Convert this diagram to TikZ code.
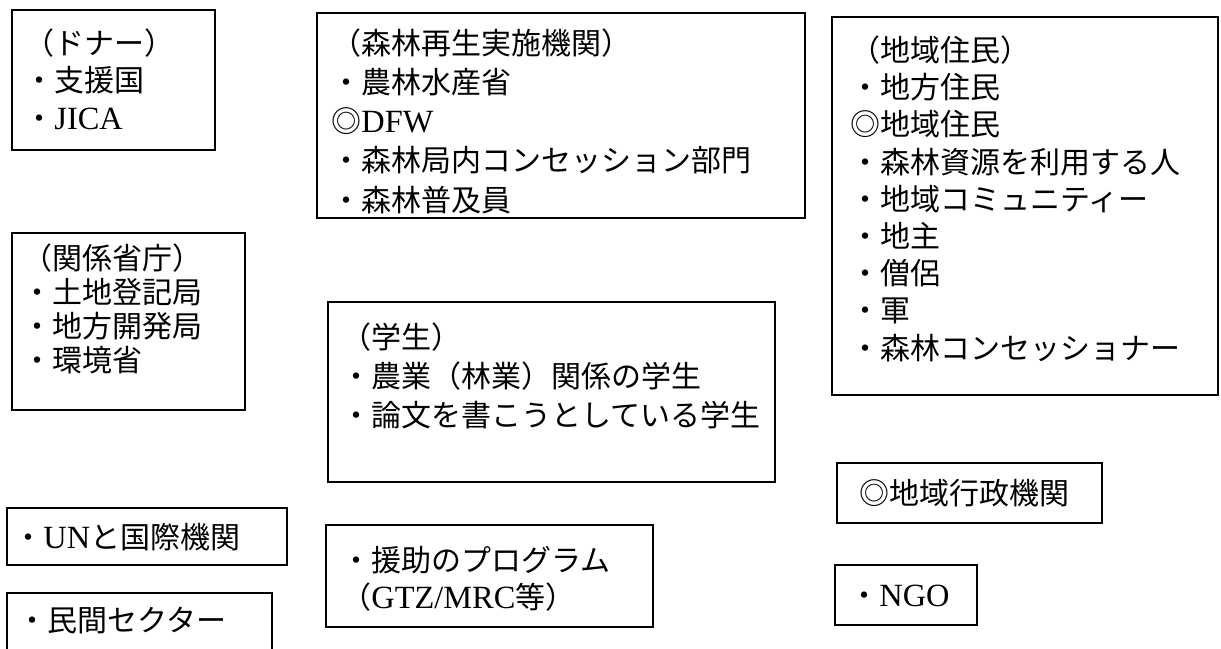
\documentclass[tikz,border=0pt]{standalone}
\usepackage{fontspec}
\setmainfont{Noto Sans CJK JP}
\newfontfamily\lat[Scale=1.08]{Liberation Serif}

\tikzset{
  boxline/.style={draw=black, line width=1pt},
  memo/.style={anchor=base west, inner sep=0pt, align=left,
    font=\fontsize{15}{#1}\selectfont},
  memo/.default=19,
}

\begin{document}
\begin{tikzpicture}[x=0.5pt, y=-0.5pt]
    \useasboundingbox (0,0) rectangle (1221,648);

    % frames
    \draw[boxline] (12,10) rectangle (215,150);
    \draw[boxline] (317,13) rectangle (805,218);
    \draw[boxline] (832,17) rectangle (1218,395);
    \draw[boxline] (12,233) rectangle (245,410);
    \draw[boxline] (328,302) rectangle (775,482);
    \draw[boxline] (7,508) rectangle (287,565);
    \draw[boxline] (7,593) rectangle (272,670);
    \draw[boxline] (326,525) rectangle (653,627);
    \draw[boxline] (837,463) rectangle (1102,523);
    \draw[boxline] (835,565) rectangle (977,625);

    % texts (placed at the baseline of the last line)
    \node[memo=18.75] (donor) at (24,129)
        {（ドナー）\\・支援国\\・{\lat JICA}};
    \node[memo=19.6] (forest) at (331,211)
        {（森林再生実施機関）\\・農林水産省\\◎{\lat DFW}\\・森林局内コンセッション部門\\・森林普及員};
    \node[memo=18.6] (locals) at (850,359)
        {（地域住民）\\・地方住民\\◎地域住民\\・森林資源を利用する人\\・地域コミュニティー\\・地主\\・僧侶\\・軍\\・森林コンセッショナー};
    \node[memo=17] (ministry) at (22,371)
        {（関係省庁）\\・土地登記局\\・地方開発局\\・環境省};
    \node[memo=19.5] (student) at (341,426)
        {（学生）\\・農業（林業）関係の学生\\・論文を書こうとしている学生};
    \node[memo] (unorg) at (13,548) {・{\lat UN}と国際機関};
    \node[memo] (private) at (17,631) {・民間セクター};
    \node[memo=18.5] (aid) at (341,608)
        {・援助のプログラム\\（{\lat GTZ/MRC}等）};
    \node[memo] (admin) at (859,504) {◎地域行政機関};
    \node[memo] (ngo) at (849,606) {・{\lat NGO}};
\end{tikzpicture}
\end{document}
